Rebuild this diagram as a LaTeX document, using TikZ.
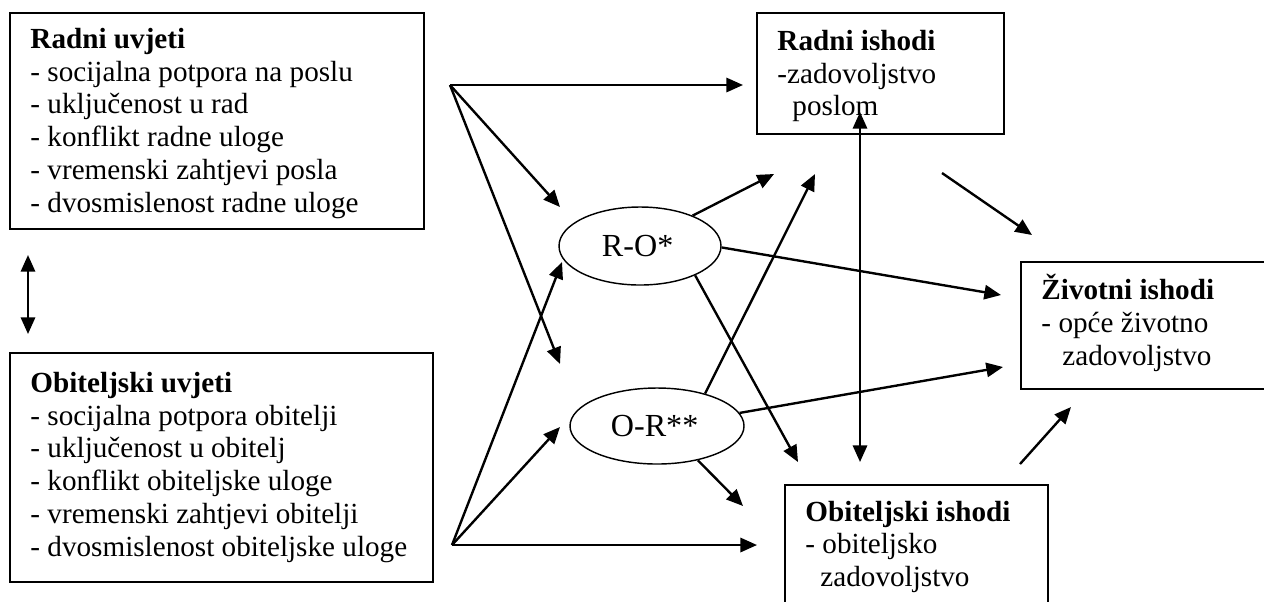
\documentclass[tikz,border=0pt]{standalone}
\usepackage{fontspec}
\setmainfont{Liberation Serif}
\usetikzlibrary{arrows.meta,shapes.geometric}

\begin{document}
\begin{tikzpicture}[x=0.42pt,y=-0.42pt,
  font=\fontsize{12.25}{13.75}\selectfont,
  frame/.style={draw, line width=0.7pt, rectangle, anchor=north west, inner sep=0pt},
  txt/.style={anchor=west, align=left, inner sep=0pt, xshift=8.82pt},
  oval/.style={draw, ellipse, line width=0.6pt, inner sep=0pt, font=\fontsize{13.5}{15}\selectfont},
  link/.style={line width=1pt, -{Triangle[length=7pt,width=6pt]}},
  twoway/.style={line width=1pt, {Triangle[length=7pt,width=6pt]}-{Triangle[length=7pt,width=6pt]}}]

\useasboundingbox (0,0) rectangle (1264,601);
\fill[white] (0,0) rectangle (1264,601);
\clip (0,0) rectangle (1264,601);

% condition boxes (left)
\node[frame, minimum width=173.88pt, minimum height=90.72pt] (ru) at (9,12) {};
\node[txt, yshift=-1pt] (rut) at (ru.west) {\textbf{Radni uvjeti}\\
  - socijalna potpora na poslu\\
  - uključenost u rad\\
  - konflikt radne uloge\\
  - vremenski zahtjevi posla\\
  - dvosmislenost radne uloge};

\node[frame, minimum width=177.66pt, minimum height=96.18pt] (ou) at (9,352) {};
\node[txt] (out) at (ou.west) {\textbf{Obiteljski uvjeti}\\
  - socijalna potpora obitelji\\
  - uključenost u obitelj\\
  - konflikt obiteljske uloge\\
  - vremenski zahtjevi obitelji\\
  - dvosmislenost obiteljske uloge};

% outcome boxes (right)
\node[frame, minimum width=103.74pt, minimum height=50.82pt] (ri) at (756,12) {};
\node[txt, yshift=-1.2pt] (rit) at (ri.west) {\textbf{Radni ishodi}\\
  -zadovoljstvo\\
  \hspace*{6.3pt}poslom};

\node[frame, minimum width=109.2pt, minimum height=53.34pt] (zi) at (1020,261) {};
\node[txt, yshift=1pt] (zit) at (zi.west) {\textbf{Životni ishodi}\\
  - opće životno\\
  \hspace*{8.8pt}zadovoljstvo};

\node[frame, minimum width=110.46pt, minimum height=52.08pt] (oi) at (784,484) {};
\node[txt] (oit) at (oi.west) {\textbf{Obiteljski ishodi}\\
  - obiteljsko\\
  \hspace*{6.3pt}zadovoljstvo};

% conflict ellipses
\node[oval, minimum width=68.04pt, minimum height=32.76pt] (ro) at (640,246) {R-O*\kern2pt};
\node[oval, minimum width=73.08pt, minimum height=31.92pt] (or) at (657,426) {O-R**\kern2pt};

% arrow origins and free tips
\coordinate (f1) at (450,85);
\coordinate (f2) at (452,545);
\coordinate (t1) at (743,85);
\coordinate (t2) at (560,207);
\coordinate (t3) at (560,364);
\coordinate (t4) at (562,262);
\coordinate (t5) at (560,427);
\coordinate (t6) at (757,545);
\coordinate (u1) at (774,174);
\coordinate (u2) at (1001,295);
\coordinate (u3) at (798,462);
\coordinate (v1) at (815,174);
\coordinate (v2) at (1003,367);
\coordinate (v3) at (743,506);
\coordinate (w1) at (860,112);
\coordinate (w2) at (860,462);
\coordinate (a1) at (942,173);
\coordinate (a2) at (1032,235);
\coordinate (b1) at (1020,464);
\coordinate (b2) at (1071,407);
\coordinate (c1) at (28,255);
\coordinate (c2) at (28,334);

% work conditions fan
\draw[link] (f1) -- (t1);
\draw[link] (f1) -- (t2);
\draw[link] (f1) -- (t3);
% family conditions fan
\draw[link] (f2) -- (t4);
\draw[link] (f2) -- (t5);
\draw[link] (f2) -- (t6);
% from R-O
\draw[link] (ro.30) -- (u1);
\draw[link] (ro.-1) -- (u2);
\draw[link] (ro.-28) -- (u3);
% from O-R
\draw[link] (or.34.5) -- (v1);
\draw[link] (or.9.7) -- (v2);
\draw[link] (or.-40.4) -- (v3);
% between outcomes
\draw[twoway] (w2) -- (w1);
\draw[link] (a1) -- (a2);
\draw[link] (b1) -- (b2);
% between conditions
\draw[twoway] (c1) -- (c2);

\end{tikzpicture}
\end{document}
